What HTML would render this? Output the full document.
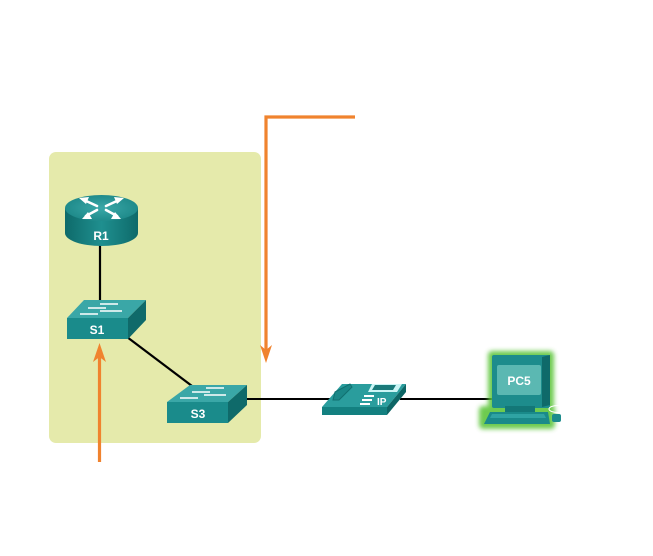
<!DOCTYPE html>
<html><head><meta charset="utf-8"><style>
html,body{margin:0;padding:0;background:#fff;}
svg{display:block;}
text{font-family:"Liberation Sans",Arial,sans-serif;font-weight:bold;fill:#fff;}
</style></head><body>
<svg width="653" height="556" viewBox="0 0 653 556" xmlns="http://www.w3.org/2000/svg">
<defs>
<linearGradient id="rbody" x1="0" x2="1" y1="0" y2="0">
<stop offset="0" stop-color="#0e6a6a"/><stop offset="0.5" stop-color="#1f8f8f"/><stop offset="1" stop-color="#0e6a6a"/>
</linearGradient>
<radialGradient id="rtop" cx="0.5" cy="0.5" r="0.6">
<stop offset="0" stop-color="#3aa8a8"/><stop offset="1" stop-color="#1a8585"/>
</radialGradient>
<filter id="glow" x="-30%" y="-30%" width="160%" height="160%">
<feGaussianBlur stdDeviation="2.5"/>
</filter>
</defs>

<!-- green area -->
<rect x="49" y="152" width="212" height="291" rx="7" fill="#e5eaab"/>

<!-- connections -->
<line x1="100" y1="244" x2="100" y2="303" stroke="#000" stroke-width="2.2"/>
<line x1="127" y1="337" x2="192" y2="386" stroke="#000" stroke-width="2.2"/>
<line x1="246" y1="399" x2="335" y2="399" stroke="#000" stroke-width="2"/>
<line x1="400" y1="399" x2="492" y2="399" stroke="#000" stroke-width="2"/>

<!-- Router R1 -->
<rect x="65" y="208" width="73" height="25" fill="url(#rbody)"/>
<ellipse cx="101.5" cy="233" rx="36.5" ry="13" fill="url(#rbody)"/>
<ellipse cx="101.5" cy="208" rx="36.5" ry="13" fill="url(#rtop)"/>
<g stroke="#fff" stroke-width="2.6" fill="none" stroke-linecap="round">
<line x1="84" y1="200" x2="97" y2="206"/>
<line x1="119" y1="200" x2="106" y2="206"/>
<line x1="86" y1="216" x2="97" y2="210"/>
<line x1="117" y1="216" x2="106" y2="210"/>
</g>
<g fill="#fff">
<polygon points="79,198 89,197 86,204"/>
<polygon points="124,198 114,197 117,204"/>
<polygon points="82,219 92,219 88,212"/>
<polygon points="121,219 111,219 115,212"/>
</g>
<text x="101" y="240" font-size="12" text-anchor="middle">R1</text>

<!-- Switch S1 -->
<polygon points="84,300 146,300 128,318 67,318" fill="#3aa7a7"/>
<rect x="67" y="318" width="61" height="21" fill="#1a8b8b"/>
<polygon points="128,318 146,300 146,320 128,339" fill="#0f6a6a"/>
<g stroke="#fff" stroke-width="1.5">
<line x1="100" y1="304" x2="118" y2="304"/>
<line x1="88" y1="308" x2="106" y2="308"/>
<line x1="100" y1="311" x2="122" y2="311"/>
<line x1="80" y1="314" x2="98" y2="314"/>
</g>
<text x="97" y="334" font-size="12" text-anchor="middle">S1</text>

<!-- Switch S3 -->
<polygon points="190,385 247,385 228,402 167,402" fill="#3aa7a7"/>
<rect x="167" y="402" width="61" height="21" fill="#1a8b8b"/>
<polygon points="228,402 247,385 247,405 228,423" fill="#0f6a6a"/>
<g stroke="#fff" stroke-width="1.5">
<line x1="206" y1="388" x2="224" y2="388"/>
<line x1="192" y1="392" x2="210" y2="392"/>
<line x1="204" y1="395" x2="226" y2="395"/>
<line x1="180" y1="398" x2="198" y2="398"/>
</g>
<text x="198" y="418" font-size="12" text-anchor="middle">S3</text>

<!-- IP phone -->
<polygon points="342,384 406,384 387,407 322,407" fill="#2a9d9d"/>
<rect x="322" y="407" width="65" height="8" fill="#138080"/>
<polygon points="387,407 406,384 406,392 387,415" fill="#0d6565"/>
<polygon points="335,392 350,384 352,387 339,400 333,400" fill="#1a8787" stroke="#107070" stroke-width="1"/>
<polygon points="372,384 402,384 397,392 368,392" fill="#dff" opacity="0.9"/>
<polygon points="375,385 396,385 393,390 372,390" fill="#1a7a7a"/>
<g fill="#fff">
<rect x="364" y="395" width="10" height="2"/>
<rect x="362" y="399" width="10" height="2"/>
<rect x="360" y="403" width="10" height="2"/>
</g>
<text x="377" y="405" font-size="10">IP</text>

<!-- PC5 -->
<g filter="url(#glow)" fill="#5fc63e" opacity="0.9">
<rect x="488" y="351" width="66" height="62" rx="4"/>
<rect x="479" y="406" width="76" height="23" rx="4"/>
</g>
<rect x="492" y="355" width="58" height="53" rx="2" fill="#1d8c8c"/>
<polygon points="542,357 550,355 550,405 542,407" fill="#0f6a6a"/>
<rect x="497" y="365" width="44" height="30" rx="2" fill="#5bb8b2"/>
<text x="519" y="385" font-size="12" text-anchor="middle">PC5</text>
<rect x="505" y="406" width="30" height="6" fill="#137777"/>
<polygon points="490,412 548,412 550,424 484,424" fill="#1a8a8a"/>
<polygon points="492,414 544,414 546,418 490,418" fill="#2fa3a3"/>
<ellipse cx="558" cy="409" rx="9" ry="3.5" fill="none" stroke="#fff" stroke-width="1"/>
<rect x="552" y="414" width="9" height="8" rx="2" fill="#1d8c8c"/>

<!-- orange arrows -->
<g stroke="#f0832e" stroke-width="3.2" fill="none">
<polyline points="355,117 266,117 266,350"/>
<line x1="99.5" y1="462" x2="99.5" y2="356"/>
</g>
<polygon points="266,363 260,345 266,350 272,345" fill="#f0832e"/>
<polygon points="99.5,343 93,362 99.5,357 106,362" fill="#f0832e"/>
</svg>
</body></html>
